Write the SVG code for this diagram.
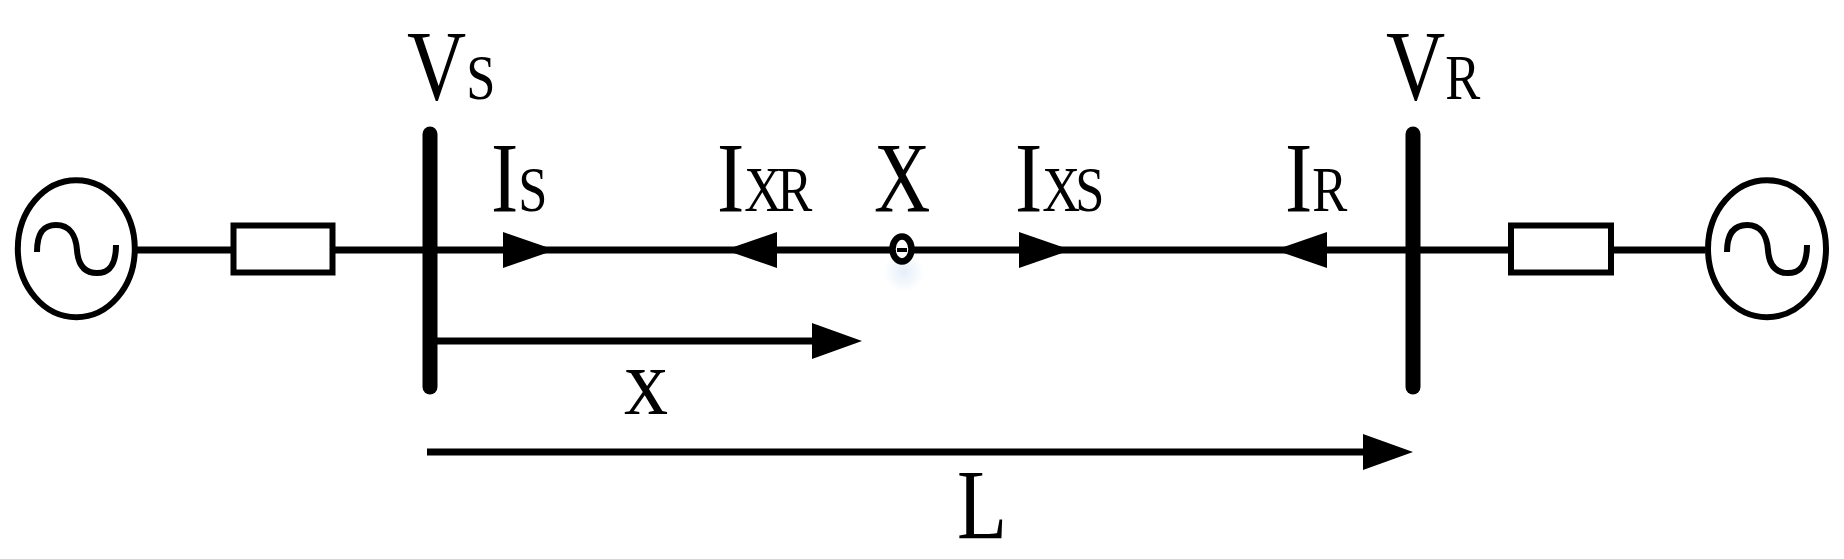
<svg xmlns="http://www.w3.org/2000/svg" width="1844" height="559" viewBox="0 0 1844 559">
<style>
.w{fill:none;stroke:#000;stroke-width:7}
.bus{fill:none;stroke:#000;stroke-width:15;stroke-linecap:round}
.src{fill:#fff;stroke:#000;stroke-width:6}
.wave{fill:none;stroke:#000;stroke-width:6}
.box{fill:#fff;stroke:#000;stroke-width:6}
text{font-family:"Liberation Serif","Times New Roman",serif;fill:#000;font-size:100px}
.s{font-size:64px}
</style>
<defs>
<marker id="head" markerUnits="userSpaceOnUse" viewBox="0 0 52 36" refX="20" refY="18" markerWidth="52" markerHeight="36" orient="auto"><path d="M0 0L52 18L0 36Z" fill="#000"/></marker>
<marker id="headL" markerUnits="userSpaceOnUse" viewBox="0 0 50 36" refX="20" refY="18" markerWidth="50" markerHeight="36" orient="auto"><path d="M0 0L50 18L0 36Z" fill="#000"/></marker>
<radialGradient id="glow"><stop offset="0" stop-color="#cfe0f2" stop-opacity=".55"/><stop offset="1" stop-color="#cfe0f2" stop-opacity="0"/></radialGradient>
</defs>
<ellipse cx="904" cy="272" rx="20" ry="20" fill="url(#glow)"/>
<g id="connectors">
<path class="w" d="M137 250H231"/>
<path class="w" d="M335 250H430"/>
<path class="w" d="M430 250H523" marker-end="url(#head)"/>
<path class="w" d="M530 250H750"/>
<path class="w" d="M892 250H757" marker-end="url(#head)"/>
<path class="w" d="M912 250H1039" marker-end="url(#head)"/>
<path class="w" d="M1045 250H1300"/>
<path class="w" d="M1413 250H1307" marker-end="url(#head)"/>
<path class="w" d="M1413 250H1509"/>
<path class="w" d="M1614 250H1705"/>
<path class="w" d="M437 341H832" marker-end="url(#headL)"/>
<path class="w" d="M427 452H1383" marker-end="url(#headL)"/>
</g>
<g id="source-s"><ellipse class="src" cx="76.3" cy="248.7" rx="58.5" ry="68.5"/><path class="wave" d="M37 252C37 232 44 225 56 225C70 225 76 236 77 250C78 264 84 273 97 273C110 273 116 264 116 245"/></g>
<g id="impedance-s"><rect class="box" x="233.5" y="225.5" width="99" height="47"/></g>
<g id="bus-s"><path class="bus" d="M430 134V387"/></g>
<g id="point-x"><ellipse cx="902" cy="249" rx="9.5" ry="12.5" fill="none" stroke="#000" stroke-width="6.5"/><path d="M897 250H907" stroke="#000" stroke-width="4" fill="none"/></g>
<g id="bus-r"><path class="bus" d="M1413 134V387"/></g>
<g id="impedance-r"><rect class="box" x="1511" y="225.5" width="100" height="47"/></g>
<g id="source-r"><ellipse class="src" cx="1767" cy="248.7" rx="59" ry="68.5"/><path class="wave" d="M1727 252C1727 232 1735 225 1747 225C1761 225 1767 236 1768 250C1769 264 1775 273 1788 273C1801 273 1807 264 1807 245"/></g>
<g id="labels">
<text transform="translate(407,99) scale(.82,1)">V<tspan class="s">S</tspan></text>
<text transform="translate(1386,99) scale(.82,1)">V<tspan class="s">R</tspan></text>
<text transform="translate(491,211) scale(.82,1)">I<tspan class="s">S</tspan></text>
<text transform="translate(717,211) scale(.82,1)">I<tspan class="s" letter-spacing="-6">XR</tspan></text>
<text transform="translate(874,211) scale(.78,1)">X</text>
<text transform="translate(1015,211) scale(.82,1)">I<tspan class="s" letter-spacing="-6">XS</tspan></text>
<text transform="translate(1285,211) scale(.82,1)">I<tspan class="s">R</tspan></text>
<text transform="translate(624,414) scale(.92,1)" style="font-size:96px">x</text>
<text transform="translate(957,538) scale(.82,1)">L</text>
</g>
</svg>
